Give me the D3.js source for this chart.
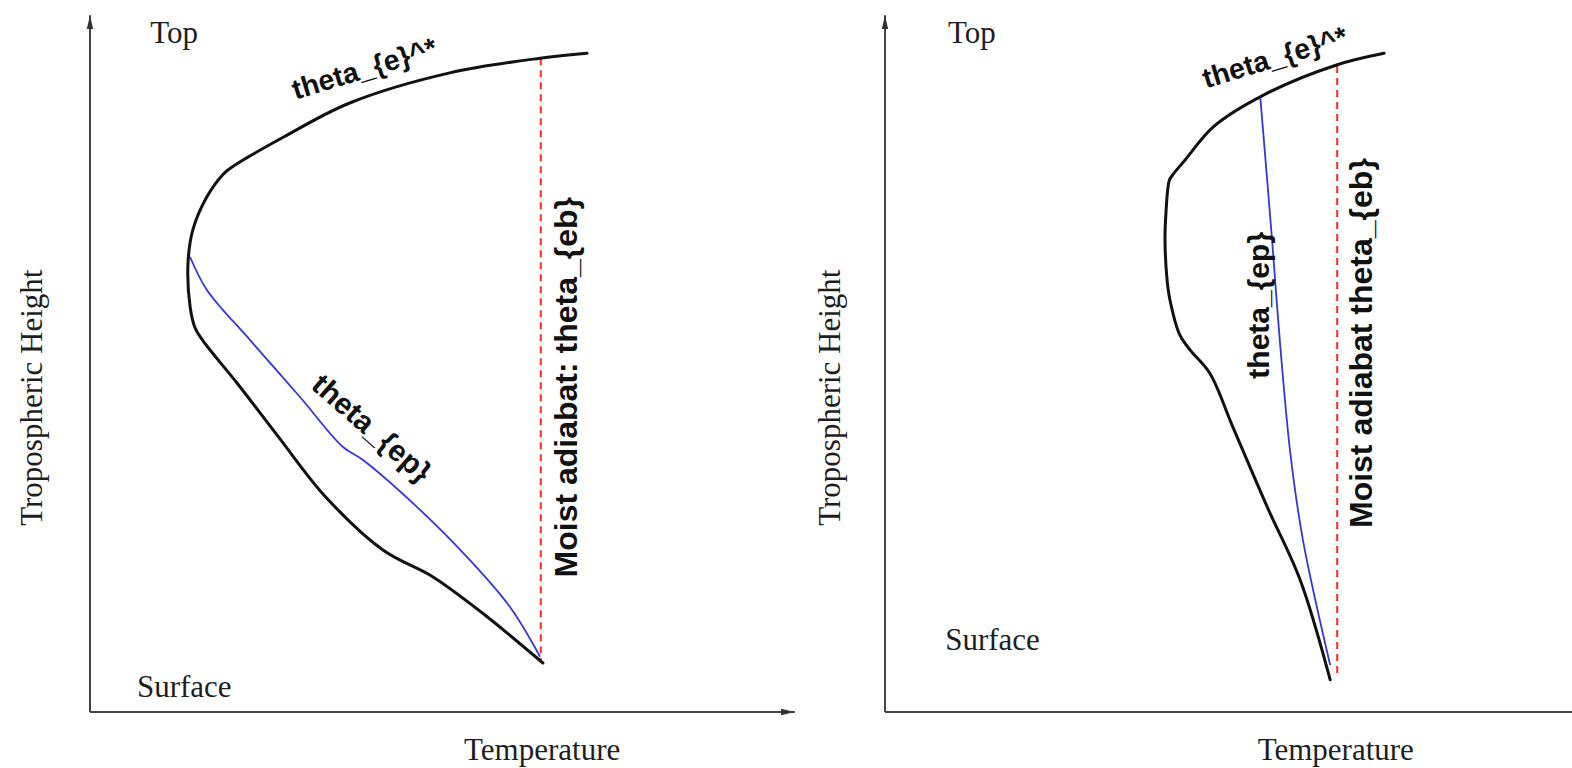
<!DOCTYPE html>
<html>
<head>
<meta charset="utf-8">
<script src="https://cdn.jsdelivr.net/npm/d3@7"></script>
<style>
  html, body { margin: 0; padding: 0; background: #fff; }
  svg { display: block; }
  .serif { font-family: "Liberation Serif", "DejaVu Serif", serif; font-size: 31px; fill: #1e1e1e; }
  .sans  { font-family: "Liberation Sans", Arial, sans-serif; font-weight: bold; fill: #111; }
</style>
</head>
<body>
<svg id="chart" width="1572" height="768"></svg>
<script>
// ---- Profile data (temperature and height, arbitrary units 0–100) ----

// Left panel: environmental saturated theta_e* profile
const leftEnvTemp   = [71.0, 64.3, 51.4, 37.1, 27.6, 20.2, 19.0, 16.7, 14.7, 14.0, 14.3, 15.0, 16.1, 21.0, 27.0, 33.6, 41.9, 49.0, 56.1, 64.7];
const leftEnvHeight = [94.1, 93.4, 91.3, 87.0, 82.1, 77.8, 76.8, 73.6, 68.9, 64.1, 57.9, 54.9, 53.1, 47.0, 39.2, 30.8, 23.1, 19.3, 14.1,  7.0];
// Left panel: parcel theta_ep profile
const leftParcelTemp   = [14.3, 16.7, 22.9, 30.0, 36.1, 39.0, 46.7, 53.9, 60.0, 64.3];
const leftParcelHeight = [65.0, 60.3, 53.1, 45.0, 37.9, 36.0, 29.3, 22.1, 15.0,  7.9];
// Left panel: moist adiabat theta_eb (constant temperature line)
const leftAdiabatTemp   = [64.4, 64.4];
const leftAdiabatHeight = [93.4,  7.4];

// Right panel: environmental saturated theta_e* profile
const rightEnvTemp   = [71.3, 64.4, 54.0, 46.9, 42.9, 41.0, 40.6, 40.1, 40.0, 40.3, 40.7, 42.1, 43.6, 46.4, 49.7, 54.6, 59.3, 63.6];
const rightEnvHeight = [94.1, 92.4, 88.1, 83.6, 78.9, 76.6, 75.9, 70.7, 67.4, 61.7, 58.9, 53.9, 51.7, 48.4, 40.7, 29.3, 18.9,  4.6];
// Right panel: parcel theta_ep profile
const rightParcelTemp   = [53.6, 55.3, 56.4, 57.9, 59.7, 63.6];
const rightParcelHeight = [88.0, 67.4, 53.1, 37.0, 24.6,  6.7];
// Right panel: moist adiabat theta_eb
const rightAdiabatTemp   = [64.6, 64.6];
const rightAdiabatHeight = [92.3,  5.0];

// Text
const axisTitleX = "Temperature";
const axisTitleY = "Tropospheric Height";
const topLabel = "Top";
const surfaceLabel = "Surface";
const envLabel = "theta_{e}^*";
const parcelLabel = "theta_{ep}";
const adiabatLabels = ["Moist adiabat: theta_{eb}", "Moist adiabat theta_{eb}"];

// ---- Drawing ----
const svg = d3.select("#chart");
const zip = (a, b) => a.map((v, i) => [v, b[i]]);

const defs = svg.append("defs");
defs.append("marker")
  .attr("id", "arrow")
  .attr("viewBox", "0 0 14 8")
  .attr("refX", 14).attr("refY", 4)
  .attr("markerWidth", 14).attr("markerHeight", 8)
  .attr("markerUnits", "userSpaceOnUse")
  .attr("orient", "auto")
  .append("path")
  .attr("d", "M0,0.8 L14,4 L0,7.2 Z")
  .attr("fill", "#333");

const panels = [
  {
    originX: 90, xAxisEnd: 100.7, xArrow: true,
    env: zip(leftEnvTemp, leftEnvHeight),
    parcel: zip(leftParcelTemp, leftParcelHeight),
    adiabat: zip(leftAdiabatTemp, leftAdiabatHeight),
    adiabatLabel: adiabatLabels[0],
    envLabelAt: [39.6, 90.6, -17],
    parcelLabelAt: [40.3, 40.6, 41],
    adiabatLabelAt: [68.0, 46.4, -90],
    topAt: [8.6, 95.6], surfaceAt: [6.7, 2.1],
    tempTitleAt: [64.6, -6.9], heightTitleAt: [-6.9, 44.9]
  },
  {
    originX: 885, xAxisEnd: 100, xArrow: false,
    env: zip(rightEnvTemp, rightEnvHeight),
    parcel: zip(rightParcelTemp, rightParcelHeight),
    adiabat: zip(rightAdiabatTemp, rightAdiabatHeight),
    adiabatLabel: adiabatLabels[1],
    envLabelAt: [56.1, 92.2, -17],
    parcelLabelAt: [53.3, 58.1, -90],
    adiabatLabelAt: [67.9, 52.7, -90],
    topAt: [9.0, 95.6], surfaceAt: [8.6, 8.9],
    tempTitleAt: [64.4, -6.9], heightTitleAt: [-6.4, 44.9]
  }
];

panels.forEach(p => {
  const x = d3.scaleLinear().domain([0, 100]).range([p.originX, p.originX + 700]);
  const y = d3.scaleLinear().domain([0, 100]).range([712, 12]);
  const g = svg.append("g");

  // Axes without ticks, ending in arrow heads
  const yAxisScale = y.copy().domain([0, 99.55]).range([y(0), y(99.55)]);
  const yAxis = g.append("g")
    .attr("transform", `translate(${x(0)},0)`)
    .call(d3.axisLeft(yAxisScale).tickValues([]).tickSizeOuter(0));
  yAxis.select(".domain").attr("stroke", "#444").attr("stroke-width", 2)
    .attr("marker-end", "url(#arrow)")
    .attr("d", `M0,${y(0)}V${y(99.55)}`);

  const xAxisScale = x.copy().domain([0, p.xAxisEnd]).range([x(0), x(p.xAxisEnd)]);
  const xAxis = g.append("g")
    .attr("transform", `translate(0,${y(0)})`)
    .call(d3.axisBottom(xAxisScale).tickValues([]).tickSizeOuter(0));
  xAxis.select(".domain").attr("stroke", "#444").attr("stroke-width", 2)
    .attr("d", `M${x(0)},0H${x(p.xAxisEnd)}`);
  if (p.xArrow) xAxis.select(".domain").attr("marker-end", "url(#arrow)");

  const smooth = d3.line().x(d => x(d[0])).y(d => y(d[1])).curve(d3.curveCatmullRom.alpha(0.5));
  const straight = d3.line().x(d => x(d[0])).y(d => y(d[1]));

  // Moist adiabat (dashed red)
  g.append("path").attr("d", straight(p.adiabat))
    .attr("fill", "none").attr("stroke", "#ff2a2a").attr("stroke-width", 2)
    .attr("stroke-dasharray", "7,5");

  // Parcel theta_ep (blue)
  g.append("path").attr("d", smooth(p.parcel))
    .attr("fill", "none").attr("stroke", "#3434e0").attr("stroke-width", 1.8);

  // Environmental theta_e* (black)
  g.append("path").attr("d", smooth(p.env))
    .attr("fill", "none").attr("stroke", "#111").attr("stroke-width", 3)
    .attr("stroke-linejoin", "round").attr("stroke-linecap", "round");

  // Curve labels
  const rotLabel = (txt, at, size, baselineMid) => {
    g.append("text").attr("class", "sans")
      .attr("font-size", size)
      .attr("text-anchor", "middle")
      .attr("dy", baselineMid ? "0.35em" : null)
      .attr("transform", `translate(${x(at[0])},${y(at[1])}) rotate(${at[2]})`)
      .text(txt);
  };
  rotLabel(envLabel, p.envLabelAt, 28.5, false);
  rotLabel(parcelLabel, p.parcelLabelAt, 30, true);
  rotLabel(p.adiabatLabel, p.adiabatLabelAt, 32, true);

  // Serif annotations
  g.append("text").attr("class", "serif").attr("x", x(p.topAt[0])).attr("y", y(p.topAt[1])).text(topLabel);
  g.append("text").attr("class", "serif").attr("x", x(p.surfaceAt[0])).attr("y", y(p.surfaceAt[1])).text(surfaceLabel);
  g.append("text").attr("class", "serif").attr("text-anchor", "middle")
    .attr("x", x(p.tempTitleAt[0])).attr("y", y(p.tempTitleAt[1])).text(axisTitleX);
  g.append("text").attr("class", "serif").attr("text-anchor", "middle")
    .attr("transform", `translate(${x(p.heightTitleAt[0])},${y(p.heightTitleAt[1])}) rotate(-90)`)
    .text(axisTitleY);
});
</script>
</body>
</html>
